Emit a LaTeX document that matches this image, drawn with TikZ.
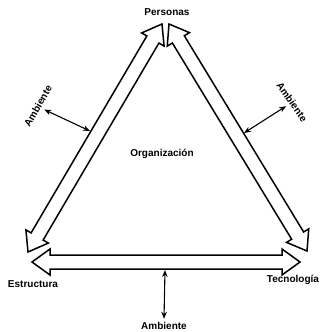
\documentclass[tikz,border=0pt]{standalone}
\usepackage{fontspec}
\setmainfont{Liberation Sans}
\usetikzlibrary{calc,arrows.meta}

\tikzset{
  rotulo/.style={font=\fontsize{10}{12}\selectfont\bfseries},
  borde/.style={line width=1.5pt, line join=miter},
  flecha/.style={{Stealth[length=7pt,width=5.5pt]}-{Stealth[length=7pt,width=5.5pt]}, line width=1.1pt},
}

% flecha hueca de doble punta entre dos puntos
\newcommand{\flechahueca}[2]{%
  \coordinate (h1) at ($(#1)!18pt!(#2)$);
  \coordinate (h2) at ($(#2)!18pt!(#1)$);
  \draw[borde] (#1) -- ($(h1)!13pt!90:(#2)$) -- ($(h1)!7pt!90:(#2)$)
    -- ($(h2)!7pt!-90:(#1)$) -- ($(h2)!13pt!-90:(#1)$) -- (#2)
    -- ($(h2)!13pt!90:(#1)$) -- ($(h2)!7pt!90:(#1)$)
    -- ($(h1)!7pt!-90:(#2)$) -- ($(h1)!13pt!-90:(#2)$) -- cycle;
}

\begin{document}
\begin{tikzpicture}[x=1pt, y=-1pt]
\useasboundingbox (0,0) rectangle (320,332);

% puntas de las flechas grandes
\coordinate (perI) at (162,24);
\coordinate (perD) at (169,24);
\coordinate (estA) at (28,252);
\coordinate (estB) at (32,262);
\coordinate (tecB) at (300,262);
\coordinate (tecA) at (307,251);

\flechahueca{estA}{perI} % Estructura - Personas
\flechahueca{perD}{tecA} % Personas - Tecnologia
\flechahueca{estB}{tecB} % Estructura - Tecnologia

\node[rotulo] (per) at (167,12) {Personas};
\node[rotulo] (est) at (33,284) {Estructura};
\node[rotulo] (tec) at (293,280) {Tecnología};
\node[rotulo] (org) at (162,154) {Organización};

% ambiente
\node[rotulo, rotate=60]  (ambI) at (38,106) {Ambiente};
\node[rotulo, rotate=-55] (ambD) at (292,102) {Ambiente};
\node[rotulo]             (ambB) at (164,326) {Ambiente};

\coordinate (bordeI) at (90,131);
\coordinate (bordeD) at (244,133);
\coordinate (bordeB) at (165,270);

\draw[flecha] (ambI.south) -- (bordeI);
\draw[flecha] (ambD.south) -- (bordeD);
\draw[flecha] (bordeB) -- (ambB.north);

\end{tikzpicture}
\end{document}
